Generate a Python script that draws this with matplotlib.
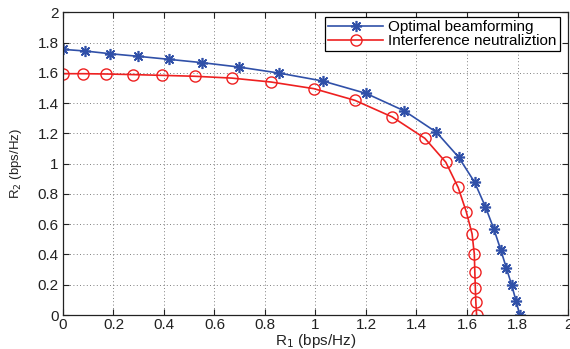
import numpy as np
import matplotlib.pyplot as plt

plt.rcParams['font.family'] = ['Liberation Sans', 'DejaVu Sans']

# rate region
r1_opt = [0.0, 0.087, 0.187, 0.297, 0.419, 0.551, 0.697, 0.856, 1.028, 1.20,
          1.352, 1.479, 1.567, 1.630, 1.673, 1.706, 1.734, 1.756, 1.777, 1.794, 1.809]
r2_opt = [1.756, 1.745, 1.727, 1.710, 1.690, 1.668, 1.639, 1.599, 1.547, 1.465,
          1.349, 1.208, 1.043, 0.878, 0.715, 0.570, 0.429, 0.310, 0.198, 0.094, 0.0]

r1_in = [0.0, 0.080, 0.172, 0.278, 0.392, 0.522, 0.668, 0.824, 0.994, 1.156,
         1.304, 1.433, 1.516, 1.565, 1.597, 1.620, 1.629, 1.631, 1.633, 1.635, 1.638]
r2_in = [1.595, 1.595, 1.593, 1.589, 1.584, 1.578, 1.566, 1.540, 1.496, 1.419,
         1.309, 1.168, 1.010, 0.843, 0.683, 0.537, 0.403, 0.284, 0.180, 0.086, 0.0]

ticks = np.arange(0, 2.01, 0.2)
tick_labels = ['0', '0.2', '0.4', '0.6', '0.8', '1', '1.2', '1.4', '1.6', '1.8', '2']

fig = plt.figure(figsize=(5.7, 3.49), dpi=100)
ax = fig.add_axes([0.1105, 0.0974, 0.886, 0.867])

# matlab style asterisk marker
ax.plot(r1_opt, r2_opt, '-', marker=(8, 2, 0), color='#3050A8', lw=1.2, ms=8,
        mew=1.2, label='Optimal beamforming')
ax.plot(r1_in, r2_in, '-o', color='#EE2020', lw=1.2, ms=8, mew=1.0,
        mfc='none', label='Interference neutraliztion')

ax.set_xlim(0, 2)
ax.set_ylim(0, 2)
ax.set_xticks(ticks)
ax.set_xticklabels(tick_labels)
ax.set_yticks(ticks)
ax.set_yticklabels(tick_labels)
ax.tick_params(direction='in', length=4, labelsize=11, top=True, right=True,
               colors='#222222', labelcolor='#222222')
ax.tick_params(axis='x', pad=2)
ax.tick_params(axis='y', pad=3)
ax.grid(True, linestyle=(0, (1, 3)), color='#555555', lw=0.6)
for s in ax.spines.values():
    s.set_linewidth(0.9)
    s.set_color('#222222')

ax.set_xlabel(r'R$_1$ (bps/Hz)', fontsize=11, labelpad=0, color='#222222')
ax.set_ylabel(r'R$_2$ (bps/Hz)', fontsize=9.5, labelpad=10, color='#222222')

leg = ax.legend(loc='upper right', bbox_to_anchor=(0.984, 0.985), fontsize=11,
                fancybox=False, edgecolor='black', framealpha=1, borderpad=0.2,
                labelspacing=0.0, handlelength=3.6, handletextpad=0.35,
                borderaxespad=0)
leg.get_frame().set_linewidth(0.9)

fig.savefig('out.png', dpi=100)
